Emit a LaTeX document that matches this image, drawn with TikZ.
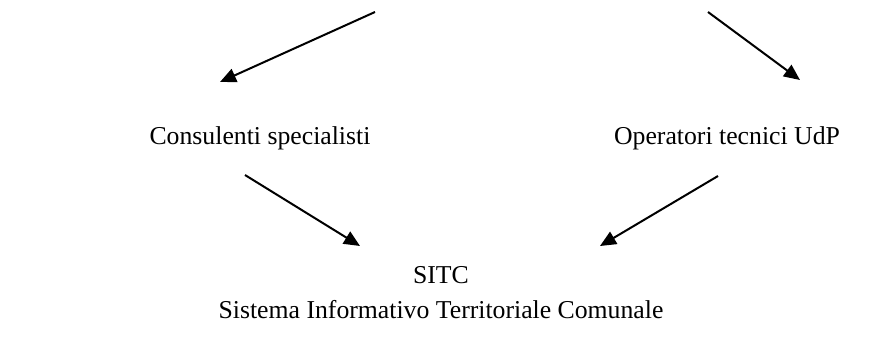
\documentclass[tikz,border=0pt]{standalone}
\usepackage{fontspec}
\setmainfont{Liberation Serif}
\usetikzlibrary{arrows.meta}
\begin{document}
\begin{tikzpicture}[x=0.75pt,y=0.75pt,yscale=-1,xscale=1,
  flow/.style={line width=1.5pt,-{Triangle[length=12pt,width=10.5pt]}},
  lbl/.style={inner sep=0.75pt,font=\fontsize{19.3}{26.25}\selectfont,align=center}]
\useasboundingbox (0,0) rectangle (890,336);
% Text Node
\node [lbl] (cons) at (260,138) {Consulenti specialisti};
% Text Node
\node [lbl] (oper) at (727,138) {Operatori tecnici UdP};
% Text Node
\node [lbl] (sitc) at (441,293) {SITC\\Sistema Informativo Territoriale Comunale};
%Arrow ends
\coordinate (topL) at (375,12);
\coordinate (topR) at (708,12);
\coordinate (consIn) at (220,82);
\coordinate (operIn) at (800,80);
\coordinate (consOut) at (245,175);
\coordinate (operOut) at (718,176);
\coordinate (sitcInL) at (360,246);
\coordinate (sitcInR) at (600,246);
%Straight Lines
\draw [flow] (topL) -- (consIn);
\draw [flow] (topR) -- (operIn);
\draw [flow] (consOut) -- (sitcInL);
\draw [flow] (operOut) -- (sitcInR);
\end{tikzpicture}
\end{document}
